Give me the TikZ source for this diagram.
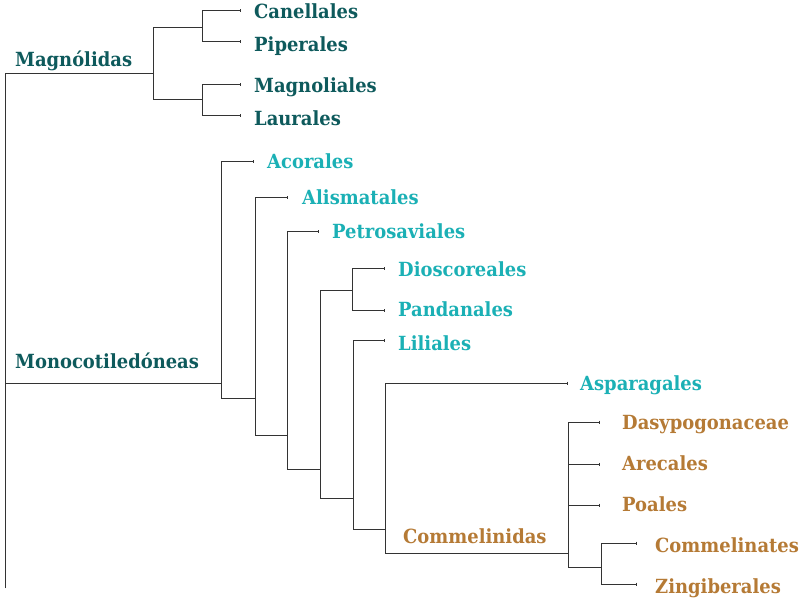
\documentclass[tikz,border=0pt]{standalone}
\usepackage{fontspec}
\setmainfont{DejaVu Serif}[FakeStretch=0.92]
\usetikzlibrary{arrows.meta}

\definecolor{magteal}{HTML}{0E5A5C}
\definecolor{monocyan}{HTML}{1BB0B5}
\definecolor{commbrown}{HTML}{B57A35}
\definecolor{branchgray}{HTML}{333333}

\begin{document}
\begin{tikzpicture}[
  x=1pt, y=-1pt,
  branch/.style={draw=branchgray, line width=1pt},
  leaf/.style={branch, -{Bar[width=3pt, line width=1.5pt]}},
  taxon/.style={anchor=base west, inner sep=0pt, font=\fontsize{19.5}{22}\selectfont\bfseries},
  magtaxon/.style={taxon, text=magteal},
  monotaxon/.style={taxon, text=monocyan},
  commtaxon/.style={taxon, text=commbrown},
]
\useasboundingbox (0,0) rectangle (800,601);

% branching points
\coordinate (root) at (5,588);
\coordinate (mag) at (153,74);
\coordinate (mag1) at (202,28);
\coordinate (mag2) at (202,100);
\coordinate (mono) at (221,383);
\coordinate (n1) at (255,398);
\coordinate (n2) at (287,435);
\coordinate (n3) at (320,469);
\coordinate (dp) at (352,291);
\coordinate (n4) at (353,498);
\coordinate (n5) at (385,529);
\coordinate (comm) at (568,553);
\coordinate (cz) at (601,567);

% leaf ends
\coordinate (can) at (241,11);
\coordinate (pip) at (241,42);
\coordinate (mgl) at (241,85);
\coordinate (lau) at (241,116);
\coordinate (aco) at (254,162);
\coordinate (ali) at (288,198);
\coordinate (pet) at (319,232);
\coordinate (dio) at (385,269);
\coordinate (pan) at (385,311);
\coordinate (lil) at (385,341);
\coordinate (asp) at (568,383);
\coordinate (das) at (600,422);
\coordinate (are) at (600,464);
\coordinate (poa) at (600,505);
\coordinate (cmt) at (637,543);
\coordinate (zin) at (637,584);

% groups
\node[magtaxon] (lmag) at (15,67) {Magnólidas};
\node[magtaxon] (lmono) at (15,368) {Monocotiledóneas};
\node[commtaxon] (lcomm) at (403,543) {Commelinidas};

\node[magtaxon] (tcan) at (254,19) {Canellales};
\node[magtaxon] (tpip) at (254,52) {Piperales};
\node[magtaxon] (tmgl) at (254,93) {Magnoliales};
\node[magtaxon] (tlau) at (254,126) {Laurales};
\node[monotaxon] (taco) at (267,169) {Acorales};
\node[monotaxon] (tali) at (302,205) {Alismatales};
\node[monotaxon] (tpet) at (332,239) {Petrosaviales};
\node[monotaxon] (tdio) at (398,277) {Dioscoreales};
\node[monotaxon] (tpan) at (398,317) {Pandanales};
\node[monotaxon] (tlil) at (398,350) {Liliales};
\node[monotaxon] (tasp) at (580,390) {Asparagales};
\node[commtaxon] (tdas) at (622,429) {Dasypogonaceae};
\node[commtaxon] (tare) at (622,470) {Arecales};
\node[commtaxon] (tpoa) at (622,511) {Poales};
\node[commtaxon] (tcmt) at (655,552) {Commelinates};
\node[commtaxon] (tzin) at (655,593) {Zingiberales};

\draw[branch] (root) |- (mag);
\draw[branch] (root) |- (mono);
\draw[branch] (mag) |- (mag1);
\draw[branch] (mag) |- (mag2);
\draw[leaf] (mag1) |- (can);
\draw[leaf] (mag1) |- (pip);
\draw[leaf] (mag2) |- (mgl);
\draw[leaf] (mag2) |- (lau);

\draw[leaf] (mono) |- (aco);
\draw[branch] (mono) |- (n1);
\draw[leaf] (n1) |- (ali);
\draw[branch] (n1) |- (n2);
\draw[leaf] (n2) |- (pet);
\draw[branch] (n2) |- (n3);
\draw[branch] (n3) |- (dp);
\draw[leaf] (dp) |- (dio);
\draw[leaf] (dp) |- (pan);
\draw[branch] (n3) |- (n4);
\draw[leaf] (n4) |- (lil);
\draw[branch] (n4) |- (n5);
\draw[leaf] (n5) |- (asp);
\draw[branch] (n5) |- (comm);
\draw[leaf] (comm) |- (das);
\draw[leaf] (comm) |- (are);
\draw[leaf] (comm) |- (poa);
\draw[branch] (comm) |- (cz);
\draw[leaf] (cz) |- (cmt);
\draw[leaf] (cz) |- (zin);

\end{tikzpicture}
\end{document}
